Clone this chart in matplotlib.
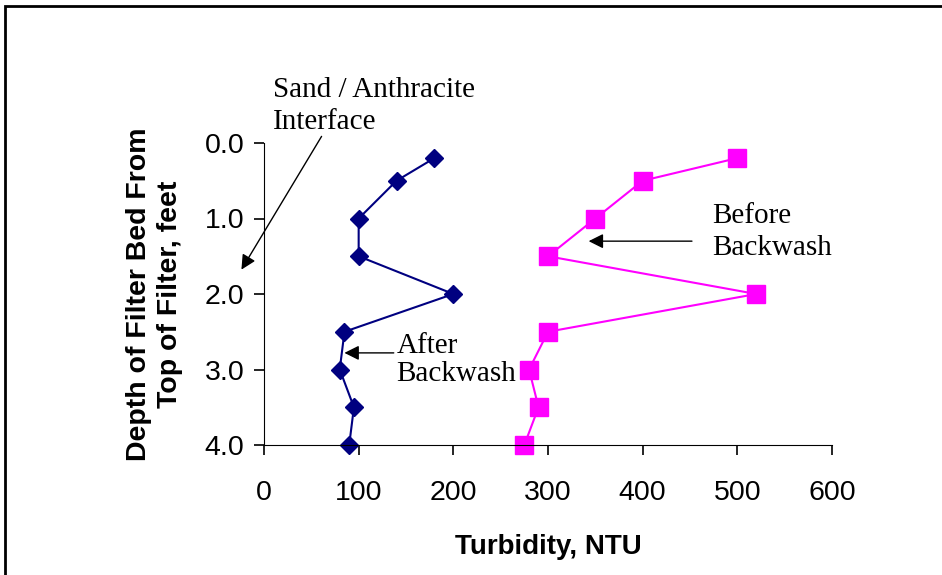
import matplotlib
matplotlib.use('Agg')
import matplotlib.pyplot as plt
from matplotlib.patches import Rectangle

# depth below top of filter, feet
depth = [0.2, 0.5, 1.0, 1.5, 2.0, 2.5, 3.0, 3.5, 4.0]
# turbidity, NTU
after_bw = [180, 140, 100, 100, 200, 85, 80, 95, 90]
before_bw = [500, 400, 350, 300, 520, 300, 280, 290, 275]

xticks = [0, 100, 200, 300, 400, 500, 600]
yticks = [0.0, 1.0, 2.0, 3.0, 4.0]

fig = plt.figure(figsize=(9.42, 5.75), dpi=100)
ax = fig.add_axes([264/942, 1-445/575, (832-264)/942, (445-143)/575])

ax.plot(after_bw, depth, color='#000080', marker='D', markersize=9.5, lw=1.5, clip_on=False)
ax.plot(before_bw, depth, color='#FF00FF', marker='s', markersize=12.5, lw=1.5, clip_on=False)

ax.set_xlim(0, 600)
ax.set_ylim(4.0, 0.0)
ax.set_xticks(xticks)
ax.set_yticks(yticks)
ax.set_yticklabels(['%.1f' % v for v in yticks])
ax.spines['top'].set_visible(False)
ax.spines['right'].set_visible(False)
ax.tick_params(direction='out', length=7, width=1.2, labelsize=20.5)
ax.tick_params(axis='x', pad=18)
ax.tick_params(axis='y', pad=7)
ax.set_xlabel('Turbidity, NTU', fontsize=20, fontweight='bold', family='Liberation Sans', labelpad=20)
ax.set_ylabel('Depth of Filter Bed From\nTop of Filter, feet', fontsize=20.5, fontweight='bold',
              family='Liberation Sans', labelpad=16, linespacing=1.25)
for t in ax.get_xticklabels() + ax.get_yticklabels():
    t.set_family('Liberation Sans')

serif = dict(family='Liberation Serif', fontsize=21)
arr = dict(arrowstyle='-|>', color='black', lw=1, mutation_scale=22)

ax.text(273, 575-106, 'Sand / Anthracite\nInterface', transform=None, ha='left', va='center',
        linespacing=1.3, **serif)
ax.annotate('', xy=(240, 575-272), xycoords='figure pixels',
            xytext=(323, 575-134), textcoords='figure pixels', arrowprops=arr)

ax.text(140, 2.87, 'After\nBackwash', ha='left', va='center', linespacing=1.1, **serif)
ax.annotate('', xy=(82, 2.78), xytext=(140, 2.78), arrowprops=arr)

ax.text(712, 575-232, 'Before\nBackwash', transform=None, ha='left', va='center',
        linespacing=1.3, **serif)
ax.annotate('', xy=(340, 1.3), xytext=(455, 1.3), arrowprops=arr)

fig.patches.append(Rectangle((5/942, -0.05), 1.1, 1-6/575+0.05, transform=fig.transFigure,
                             fill=False, edgecolor='black', lw=2))

fig.savefig('out.png', dpi=100)
